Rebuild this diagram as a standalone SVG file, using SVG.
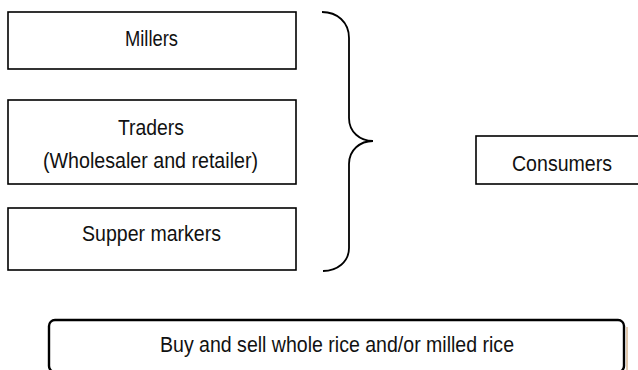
<svg xmlns="http://www.w3.org/2000/svg" width="638" height="370" viewBox="0 0 638 370">
<style>
.box{fill:#fff;stroke:#000;stroke-width:1.6}
.lbl{font-family:"Liberation Sans Narrow","Arial Narrow","Liberation Sans",Arial,sans-serif;font-size:22px;fill:#111;text-anchor:middle}
.brace{fill:none;stroke:#000;stroke-width:1.8}
</style>
<rect width="638" height="370" fill="#fff"/>
<g id="millers">
<rect class="box" x="8" y="12" width="288" height="57"/>
<text class="lbl" x="151.5" y="46" textLength="53" lengthAdjust="spacingAndGlyphs">Millers</text>
</g>
<g id="traders">
<rect class="box" x="8" y="100" width="288" height="84"/>
<text class="lbl" x="151" y="135" textLength="66" lengthAdjust="spacingAndGlyphs">Traders</text>
<text class="lbl" x="150.5" y="168" textLength="215" lengthAdjust="spacingAndGlyphs">(Wholesaler and retailer)</text>
</g>
<g id="supermarkets">
<rect class="box" x="8" y="208" width="288" height="62"/>
<text class="lbl" x="151.5" y="241" textLength="139" lengthAdjust="spacingAndGlyphs">Supper markers</text>
</g>
<g id="connectors">
<path class="brace" d="M322,12 C337,12 349,22 349,38 L349,118 C349,132 360,141 373,141 C360,141 349,150 349,164 L349,248 C349,262 337,271 323,271"/>
</g>
<g id="consumers">
<rect class="box" x="476" y="136" width="184" height="48"/>
<text class="lbl" x="562" y="171" textLength="100" lengthAdjust="spacingAndGlyphs">Consumers</text>
</g>
<g id="note">
<line x1="627" y1="327" x2="627" y2="370" stroke="#d9b896" stroke-width="1.5"/>
<rect x="49" y="320" width="575" height="52" rx="6" ry="6" fill="#fff" stroke="#000" stroke-width="2.4"/>
<text class="lbl" x="337" y="352" textLength="354" lengthAdjust="spacingAndGlyphs">Buy and sell whole rice and/or milled rice</text>
</g>
</svg>
